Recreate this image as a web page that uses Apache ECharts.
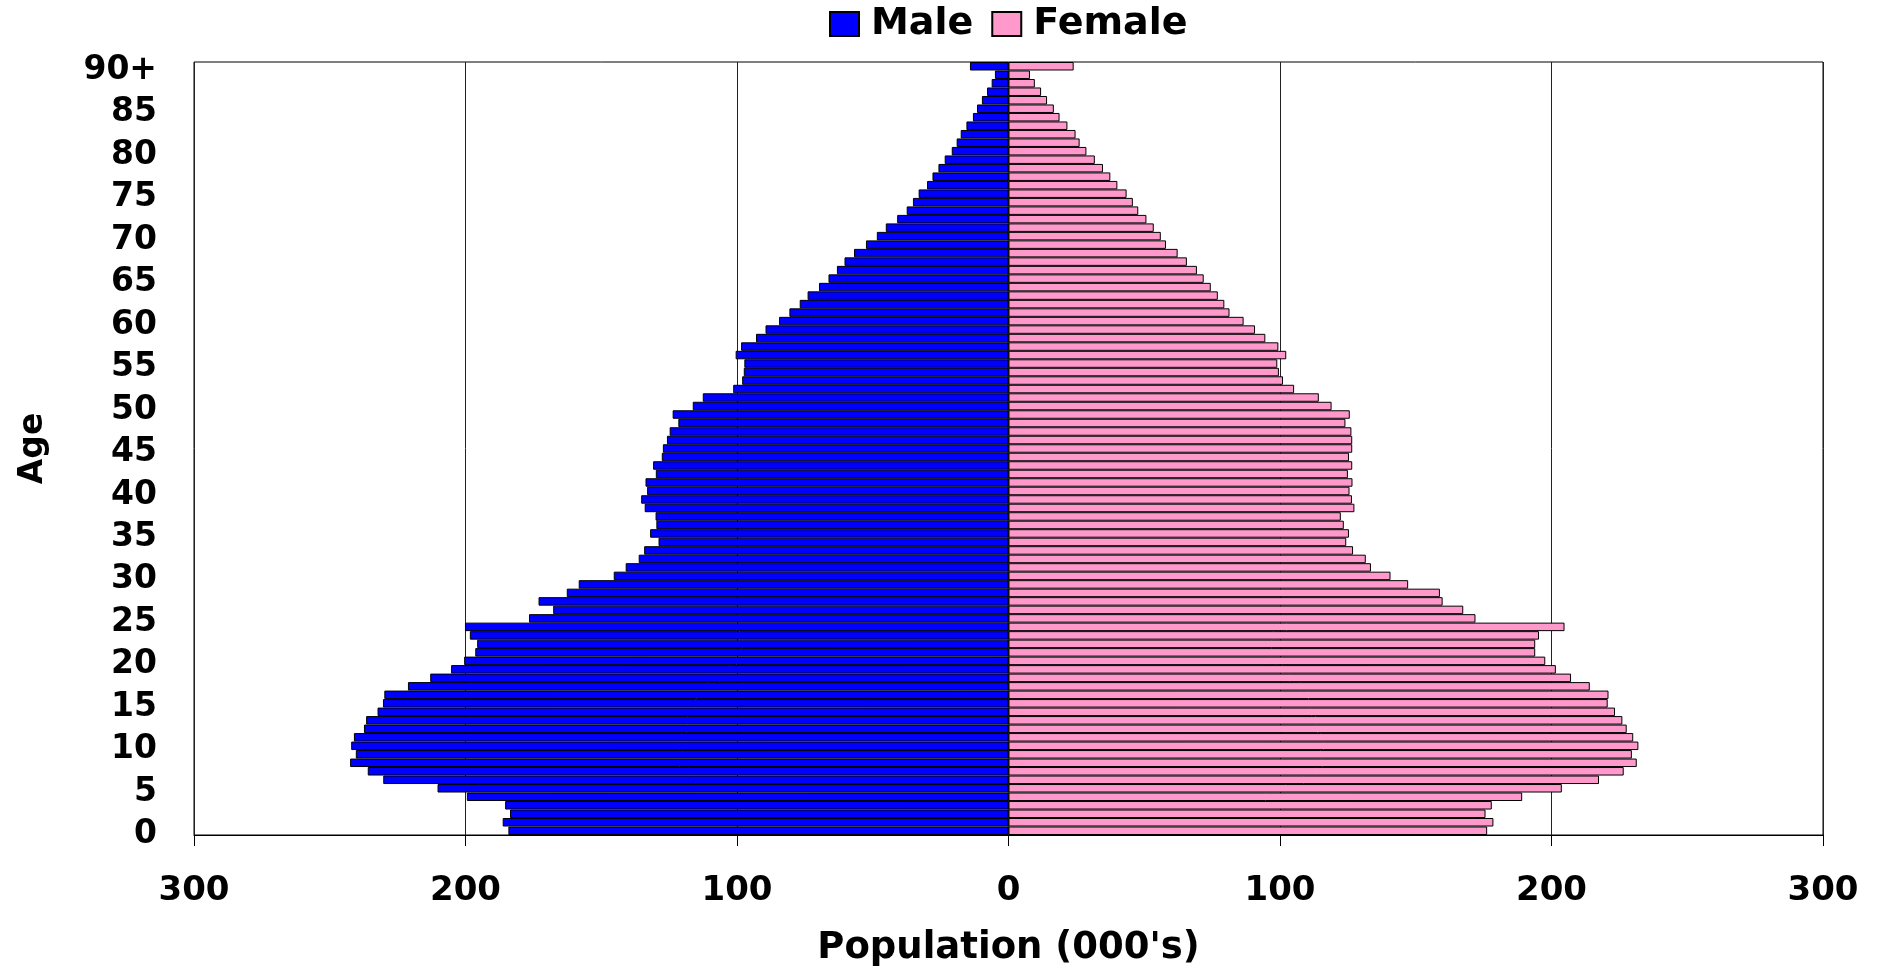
<!DOCTYPE html>
<html>
<head>
<meta charset="utf-8">
<script src="https://cdn.jsdelivr.net/npm/echarts@6/dist/echarts.min.js"></script>
<style>
html,body{margin:0;padding:0;background:#fff;}
#chart{width:1883px;height:966px;}
</style>
</head>
<body>
<div id="chart"></div>
<script>
// Age categories 0..89 and 90+
const ageLabels = [];
for (let i = 0; i < 90; i++) ageLabels.push(String(i));
ageLabels.push('90+');

// Population (000's), ages 0 .. 90+
const maleValues = [
  184.2, 186.3, 183.6, 185.4, 199.5, 210.3, 230.3, 236.0, 242.5, 240.4,
  242.1, 241.1, 237.4, 236.6, 232.4, 230.4, 229.9, 221.2, 213.0, 205.3,
  200.5, 196.4, 195.7, 198.4, 200.2, 176.6, 167.7, 173.1, 162.7, 158.3,
  145.4, 141.0, 136.2, 134.2, 128.9, 132.0, 129.7, 130.0, 134.0, 135.3,
  133.1, 133.7, 129.9, 130.9, 127.7, 127.3, 125.8, 124.8, 121.6, 123.7,
  116.3, 112.6, 101.4, 98.1, 97.5, 97.3, 100.5, 98.5, 93.0, 89.5,
  84.5, 80.7, 76.9, 74.0, 69.8, 66.3, 63.2, 60.4, 56.9, 52.5,
  48.5, 45.2, 41.0, 37.5, 35.2, 33.1, 30.0, 28.0, 25.8, 23.5,
  20.9, 19.1, 17.6, 15.5, 13.1, 11.6, 9.8, 7.9, 6.2, 5.0,
  14.2
];
const femaleValues = [
  176.3, 178.6, 175.7, 178.0, 189.2, 203.8, 217.5, 226.6, 231.4, 229.6,
  232.0, 230.1, 227.7, 226.1, 223.4, 220.7, 221.0, 214.1, 207.2, 201.6,
  197.7, 194.0, 194.0, 195.4, 204.8, 172.0, 167.5, 159.9, 158.9, 147.2,
  140.7, 133.5, 131.6, 126.9, 124.4, 125.4, 123.5, 122.4, 127.4, 126.5,
  125.6, 126.7, 125.0, 126.6, 125.4, 126.6, 126.6, 126.3, 124.1, 125.7,
  119.0, 114.3, 105.2, 101.1, 99.6, 99.0, 102.3, 99.4, 94.6, 90.8,
  86.6, 81.4, 79.5, 77.1, 74.5, 71.9, 69.4, 65.7, 62.3, 58.0,
  56.1, 53.5, 50.8, 47.8, 45.8, 43.5, 40.1, 37.5, 34.8, 31.8,
  28.7, 26.2, 24.7, 21.7, 18.8, 16.7, 14.2, 12.0, 9.7, 7.9,
  24.0
];

const FONT = 'DejaVu Sans';
const chart = echarts.init(document.getElementById('chart'), null, {renderer: 'canvas'});
chart.setOption({
  backgroundColor: '#fff',
  animation: false,
  legend: {
    data: ['Male', 'Female'],
    icon: 'rect',
    left: 824,
    top: 0,
    itemWidth: 29,
    itemHeight: 24,
    itemGap: 18,
    textStyle: {fontFamily: FONT, fontWeight: 'bold', fontSize: 38, color: '#000', padding: [0, 0, 0, 7]}
  },
  grid: {
    left: 194, right: 60, top: 62, bottom: 131,
    outerBoundsMode: 'none',
    containLabel: false,
    show: true, borderColor: '#000', borderWidth: 1, backgroundColor: 'transparent'
  },
  xAxis: {
    type: 'value',
    min: -300, max: 300, interval: 100,
    name: "Population (000's)",
    nameLocation: 'middle',
    nameGap: 95,
    nameTextStyle: {fontFamily: FONT, fontWeight: 'bold', fontSize: 37, color: '#000'},
    axisLine: {show: true, lineStyle: {color: '#000', width: 1}},
    axisTick: {show: true, length: 11, lineStyle: {color: '#000'}},
    splitLine: {show: true, lineStyle: {color: '#222', width: 1}},
    axisLabel: {
      margin: 39,
      fontFamily: FONT, fontWeight: 'bold', fontSize: 34, color: '#000',
      formatter: v => String(Math.abs(v))
    }
  },
  yAxis: {
    type: 'category',
    data: ageLabels,
    name: 'Age',
    nameLocation: 'middle',
    nameGap: 144,
    nameRotate: 90,
    nameTextStyle: {fontFamily: FONT, fontWeight: 'bold', fontSize: 33, color: '#000'},
    axisLine: {show: false},
    axisTick: {show: false},
    axisLabel: {
      interval: (idx) => idx % 5 === 0,
      margin: 37,
      verticalAlign: 'top',
      lineHeight: 8,
      fontFamily: FONT, fontWeight: 'bold', fontSize: 33, color: '#000'
    }
  },
  series: [
    {
      name: 'Male',
      type: 'bar',
      data: maleValues.map(v => -v),
      barGap: '-100%',
      barCategoryGap: '0%',
      itemStyle: {color: '#0000ff', borderColor: '#000', borderWidth: 1}
    },
    {
      name: 'Female',
      type: 'bar',
      data: femaleValues,
      barGap: '-100%',
      barCategoryGap: '0%',
      itemStyle: {color: '#ff99cc', borderColor: '#000', borderWidth: 1}
    }
  ]
});
</script>
</body>
</html>
